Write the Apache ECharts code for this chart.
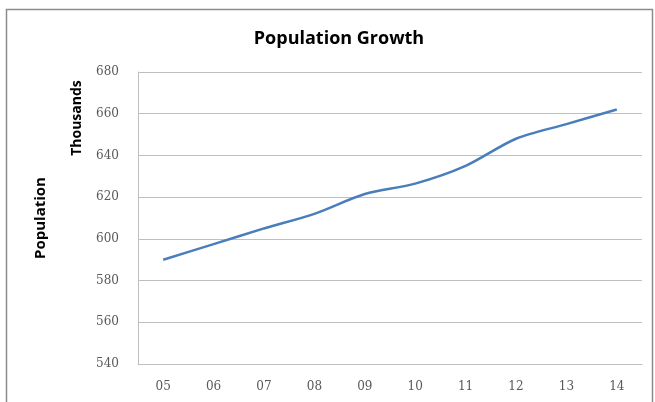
<!DOCTYPE html>
<html>
<head>
<meta charset="utf-8">
<script src="https://cdn.jsdelivr.net/npm/echarts@6/dist/echarts.min.js"></script>
<style>
  html, body { margin: 0; padding: 0; background: #fff; }
  #chart { width: 655px; height: 402px; }
</style>
</head>
<body>
<div id="chart"></div>
<script>
// Years (two-digit) and population in thousands
const years = ['05', '06', '07', '08', '09', '10', '11', '12', '13', '14'];
const population = [590, 597.5, 605, 612, 621.5, 626.5, 635, 648, 655, 662];
const yMin = 540, yMax = 680, yStep = 20;

const chart = echarts.init(document.getElementById('chart'), null, { renderer: 'canvas' });

chart.setOption({
  backgroundColor: '#ffffff',
  animation: false,
  title: {
    text: 'Population Growth',
    left: 334, top: 25, textAlign: 'center',
    textStyle: { fontFamily: 'Open Sans', fontWeight: 'bold', fontSize: 18, color: '#000' }
  },
  grid: { left: 138, right: 13, top: 72, bottom: 38 },
  graphic: [
    {
      type: 'rect', z: -1,
      shape: { x: 6.5, y: 9.5, width: 646, height: 400 },
      style: { fill: 'none', stroke: '#8c8c8c', lineWidth: 1.5 }
    },
    {
      type: 'text', rotation: Math.PI / 2,
      x: 77, y: 118,
      style: {
        text: 'Thousands', fontFamily: 'Open Sans', fontWeight: 'bold', fontSize: 14,
        fill: '#000', align: 'center', verticalAlign: 'middle'
      }
    }
  ],
  xAxis: {
    type: 'category',
    data: years,
    boundaryGap: true,
    axisLine: { lineStyle: { color: '#bfbfbf', width: 1 } },
    axisTick: { show: false },
    axisLabel: { margin: 17, color: '#595959', fontFamily: 'DejaVu Serif', fontSize: 12 },
    splitLine: { show: false }
  },
  yAxis: {
    type: 'value',
    min: yMin, max: yMax, interval: yStep,
    name: 'Population',
    nameLocation: 'middle',
    nameGap: 90,
    nameRotate: 90,
    nameTextStyle: { fontFamily: 'Open Sans', fontWeight: 'bold', fontSize: 15, color: '#000' },
    axisLine: { show: true, lineStyle: { color: '#bfbfbf', width: 1 } },
    axisTick: { show: false },
    axisLabel: { margin: 19, color: '#595959', fontFamily: 'DejaVu Serif', fontSize: 12 },
    splitLine: { lineStyle: { color: '#bfbfbf', width: 1 } }
  },
  series: [{
    type: 'line',
    data: population,
    smooth: 0.3,
    symbol: 'none',
    lineStyle: { color: '#4a7ebb', width: 2.5 }
  }]
});
</script>
</body>
</html>
